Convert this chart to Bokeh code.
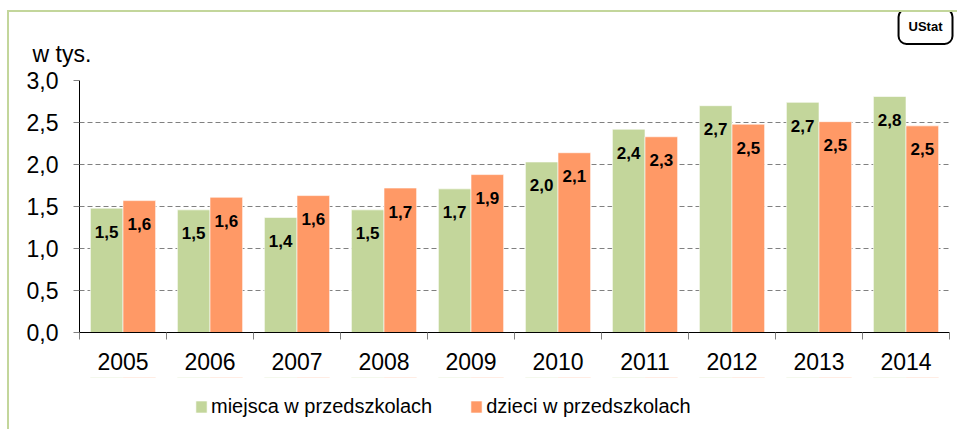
import numpy as np
from bokeh.plotting import figure
from bokeh.layouts import column
from bokeh.models import (Range1d, FixedTicker, Legend, LegendItem, Title,
                          ColumnDataSource, LabelSet, CustomJSTickFormatter)
from bokeh.core.properties import value
from bokeh.transform import dodge
from bokeh.embed import file_html
from bokeh.resources import INLINE

years = ["2005", "2006", "2007", "2008", "2009", "2010", "2011", "2012", "2013", "2014"]
miejsca = [1.48, 1.46, 1.37, 1.46, 1.71, 2.03, 2.42, 2.70, 2.74, 2.81]
dzieci = [1.57, 1.61, 1.63, 1.72, 1.88, 2.14, 2.33, 2.48, 2.51, 2.46]
y_ticks = [0.0, 0.5, 1.0, 1.5, 2.0, 2.5, 3.0]
series_names = ["miejsca w przedszkolach", "dzieci w przedszkolach"]
unit_text = "w tys."
logo_text = "UStat"

GREEN = "#C3D69B"
ORANGE = "#FF9966"
FONT = "Liberation Sans"

def fmt(v):
    return f"{v:.1f}".replace(".", ",")

xc = np.arange(len(years)) + 0.5
src = ColumnDataSource(dict(
    x=xc, miejsca=miejsca, dzieci=dzieci,
    lab_m=[fmt(v) for v in miejsca], lab_d=[fmt(v) for v in dzieci],
))

logo = Title(text=logo_text, align="right", text_font=FONT, text_font_size="13px",
             text_font_style="bold", text_color="black",
             border_line_color="black", border_line_width=2, border_radius=8,
             padding=10, background_fill_color="white", standoff=-37, offset=-3)

p = figure(frame_width=870, frame_height=252, x_range=Range1d(0, len(years)),
           y_range=Range1d(y_ticks[0], y_ticks[-1]),
           output_backend="svg", toolbar_location=None, title=logo,
           min_border_left=70, min_border_right=8, min_border_top=68,
           min_border_bottom=45)
p.outline_line_color = None
p.background_fill_color = "white"
p.border_fill_color = "white"

bw = 0.375
p.vbar(x=dodge("x", -bw / 2), top="miejsca", width=bw, source=src,
       fill_color=GREEN, line_color="white", line_alpha=0.6)
p.vbar(x=dodge("x", bw / 2), top="dzieci", width=bw, source=src,
       fill_color=ORANGE, line_color="white", line_alpha=0.6)

for field, lab, off in [("miejsca", "lab_m", -bw / 2), ("dzieci", "lab_d", bw / 2)]:
    ls = LabelSet(x=dodge("x", off), y=field, text=lab, source=src,
                  text_align="center", text_baseline="middle", y_offset=-23.5,
                  text_font=value(FONT), text_font_size=value("17px"),
                  text_font_style="bold", text_color="black")
    p.add_layout(ls)

# x axis
p.xaxis.ticker = FixedTicker(ticks=list(xc), minor_ticks=list(range(len(years) + 1)))
p.xaxis.formatter = CustomJSTickFormatter(args=dict(years=years),
                                          code="return years[Math.floor(tick)];")
p.xaxis.major_tick_line_color = None
p.xaxis.major_tick_out = 0
p.xaxis.major_tick_in = 0
p.xaxis.minor_tick_line_color = "#808080"
p.xaxis.minor_tick_out = 7
p.xaxis.minor_tick_in = 0
p.xaxis.axis_line_color = "black"
p.xaxis.major_label_standoff = 13
p.xaxis.major_label_text_font = FONT
p.xaxis.major_label_text_font_size = "23px"
p.xaxis.major_label_text_color = "black"

# y axis
p.yaxis.ticker = FixedTicker(ticks=y_ticks)
p.yaxis.formatter = CustomJSTickFormatter(code="return tick.toFixed(1).replace('.', ',');")
p.yaxis.major_tick_line_color = "#808080"
p.yaxis.major_tick_out = 6
p.yaxis.major_tick_in = 0
p.yaxis.minor_tick_line_color = None
p.yaxis.axis_line_color = "black"
p.yaxis.major_label_standoff = 15
p.yaxis.major_label_text_font = FONT
p.yaxis.major_label_text_font_size = "23px"
p.yaxis.major_label_text_color = "black"

p.xgrid.grid_line_color = None
p.ygrid.grid_line_color = "#808080"
p.ygrid.grid_line_dash = "5 3"
p.ygrid.grid_line_width = 1

# unit label, nearest the frame
unit = Title(text=unit_text, align="left", offset=-47, standoff=27,
             text_font=FONT, text_font_size="23px", text_font_style="normal",
             text_color="black")
p.add_layout(unit, "above")

# legend strip: a second, axis-less figure; its bars lie outside its view range,
# so only the legend swatches show
leg = figure(width=948, height=52, output_backend="svg", toolbar_location=None,
             x_axis_location=None, y_axis_location=None, title=None,
             min_border=0, x_range=Range1d(0, len(years)), y_range=Range1d(-2, -1))
leg.outline_line_color = None
leg.grid.visible = False
leg.background_fill_color = "white"
leg.border_fill_color = "white"
lr1 = leg.vbar(x=dodge("x", -bw / 2), top="miejsca", width=bw, source=src,
               fill_color=GREEN, line_color="white", line_alpha=0.6)
lr2 = leg.vbar(x=dodge("x", bw / 2), top="dzieci", width=bw, source=src,
               fill_color=ORANGE, line_color="white", line_alpha=0.6)

legend = Legend(items=[LegendItem(label=series_names[0], renderers=[lr1]),
                       LegendItem(label=series_names[1], renderers=[lr2])],
                orientation="horizontal", location=(115, 11),
                glyph_width=14, glyph_height=15, label_standoff=3, spacing=37,
                padding=0, margin=0, border_line_color=None,
                background_fill_alpha=0, label_text_font=FONT,
                label_text_font_size="20px", label_text_color="black",
                label_height=20)
leg.add_layout(legend)

page = column(p, leg, spacing=0)
page.styles = {"margin-left": "7px", "margin-top": "10px",
               "border-left": "2px solid #C3D69B", "border-top": "2px solid #C3D69B"}

open("out.html", "w").write(file_html(page, INLINE))
